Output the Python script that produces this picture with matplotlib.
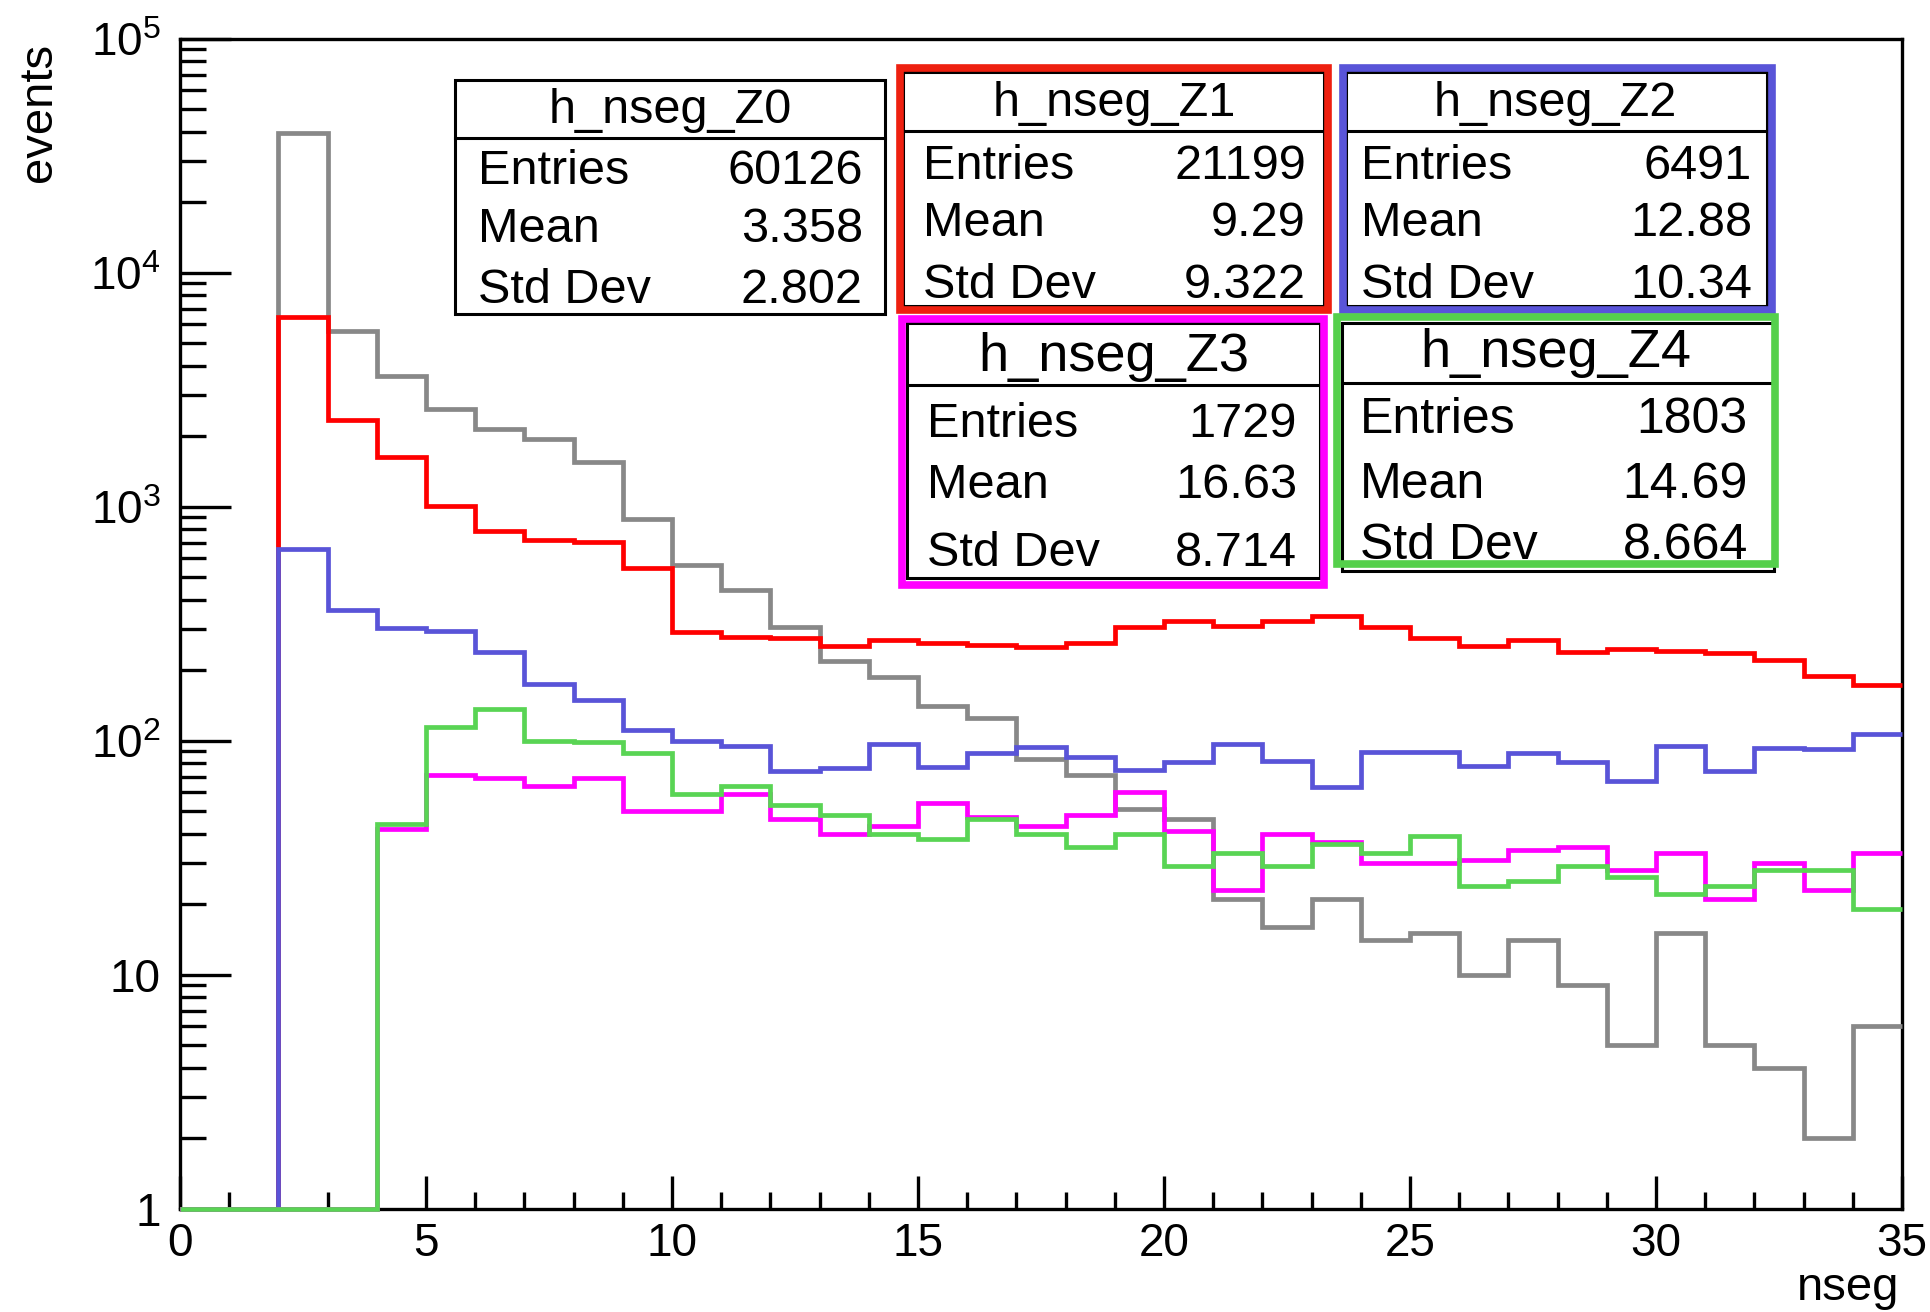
import numpy as np
import matplotlib
matplotlib.use('Agg')
import matplotlib.pyplot as plt
from matplotlib.patches import Rectangle
from matplotlib.lines import Line2D
from matplotlib.ticker import MultipleLocator, LogLocator, NullFormatter

plt.rcParams['font.family'] = ['Liberation Sans', 'DejaVu Sans']
plt.rcParams['mathtext.fontset'] = 'custom'
plt.rcParams['mathtext.rm'] = 'Liberation Sans'

# bin edges 0..35, one bin per nseg value
edges = np.arange(0, 36)

h_nseg_Z0 = [0, 0, 39360, 5650, 3600, 2617, 2138, 1946, 1549, 881,
             560, 441, 306, 218, 186, 140, 125, 83, 71, 51,
             46, 21, 16, 21, 14, 15, 10, 14, 9, 5,
             15, 5, 4, 2, 6]
h_nseg_Z1 = [0, 0, 6475, 2340, 1626, 1008, 789, 718, 705, 546,
             290, 278, 274, 253, 268, 260, 257, 251, 262, 306,
             324, 310, 324, 339, 307, 273, 254, 270, 240, 246,
             241, 237, 220, 189, 173]
h_nseg_Z2 = [0, 0, 660, 362, 303, 295, 240, 174, 149, 111,
             100, 95, 74, 76, 97, 77, 88, 94, 85, 75,
             81, 97, 82, 63, 89, 89, 78, 88, 81, 67,
             95, 74, 93, 92, 107]
h_nseg_Z3 = [0, 0, 0, 0, 42, 71, 69, 64, 69, 50,
             50, 59, 46, 40, 43, 54, 47, 43, 48, 60,
             41, 23, 40, 37, 30, 30, 31, 34, 35, 28,
             33, 21, 30, 23, 33]
h_nseg_Z4 = [0, 0, 0, 0, 44, 114, 137, 100, 99, 88,
             59, 64, 53, 48, 40, 38, 46, 40, 35, 40,
             29, 33, 29, 36, 33, 39, 24, 25, 29, 26,
             22, 24, 28, 28, 19]

hist_names = ['h_nseg_Z0', 'h_nseg_Z1', 'h_nseg_Z2', 'h_nseg_Z3', 'h_nseg_Z4']
entries = ['60126', '21199', '6491', '1729', '1803']
means = ['3.358', '9.29', '12.88', '16.63', '14.69']
stddevs = ['2.802', '9.322', '10.34', '8.714', '8.664']

hists = [h_nseg_Z0, h_nseg_Z1, h_nseg_Z2, h_nseg_Z3, h_nseg_Z4]
colors = ['#888888', '#ff0000', '#5954d8', '#ff00ff', '#59d454']
frame_colors = [None, '#ee2010', '#5954d8', '#ff00ff', '#55d04b']

W, H = 1931, 1312


def fx(px):
    return px / W


def fy(py):
    return 1 - py / H


fig = plt.figure(figsize=(W / 100, H / 100), dpi=100)
ax = fig.add_axes([fx(180), fy(1208.5), (1902 - 180) / W, (1208.5 - 38.5) / H])

for vals, c in zip(hists, colors):
    # empty bins sit on the bottom of the frame like ROOT does on log axes
    ax.stairs(np.maximum(vals, 1), edges, baseline=None, color=c, lw=3.4,
              zorder=3, clip_on=False, joinstyle='miter')

ax.set_xlim(0, 35)
ax.set_yscale('log')
ax.set_ylim(1, 1e5)
ax.xaxis.set_major_locator(MultipleLocator(5))
ax.xaxis.set_minor_locator(MultipleLocator(1))
ax.set_yticks([1, 10, 100, 1e3, 1e4, 1e5])
ax.set_yticklabels(['1', '10', r'$\mathregular{10^{2}}$', r'$\mathregular{10^{3}}$',
                    r'$\mathregular{10^{4}}$', r'$\mathregular{10^{5}}$'])
ax.yaxis.set_minor_locator(LogLocator(base=10, subs=np.arange(2, 10), numticks=20))
ax.yaxis.set_minor_formatter(NullFormatter())

ax.tick_params(axis='both', which='both', direction='in', top=False, right=False,
               labelsize=33, width=2.4, colors='black')
ax.tick_params(axis='y', which='major', length=37, pad=14)
ax.tick_params(axis='y', which='minor', length=19)
ax.tick_params(axis='x', which='major', length=24, pad=10)
ax.tick_params(axis='x', which='minor', length=12)
for sp in ax.spines.values():
    sp.set_linewidth(2.4)

fig.text(fx(39), fy(43), 'events', rotation=90, ha='center', va='top', fontsize=34)
fig.text(fx(1899), fy(1300), 'nseg', ha='right', va='baseline', fontsize=34)

# stat boxes (pixel layout of the reference)
box_layout = [
    dict(box=(455, 80, 885, 314), sep=137.5, frame=None,
         tx=670, ty=123, lx=478, rx=863, rows=(184, 242.5, 303), tsize=35, rsize=35),
    dict(box=(903, 72, 1324, 306), sep=131, frame=(896, 64, 1332, 314),
         tx=1114, ty=116, lx=923, rx=1306, rows=(179, 236, 297.5), tsize=35, rsize=35),
    dict(box=(1346, 72, 1767, 306), sep=131, frame=(1339, 64, 1776, 314),
         tx=1555, ty=116, lx=1361, rx=1752, rows=(179, 236, 297.5), tsize=35, rsize=35),
    dict(box=(907, 323, 1320, 578), sep=385, frame=(898, 315, 1328, 589),
         tx=1114, ty=371, lx=927, rx=1297, rows=(437, 498, 566), tsize=39, rsize=35),
    dict(box=(1342, 323, 1774, 571), sep=383, frame=(1333, 313, 1779, 568),
         tx=1556, ty=367, lx=1360, rx=1748, rows=(433.5, 498, 559), tsize=39, rsize=36),
]

for i, lay in enumerate(box_layout):
    x0, y0, x1, y1 = lay['box']
    fig.add_artist(Rectangle((fx(x0), fy(y1)), (x1 - x0) / W, (y1 - y0) / H,
                             transform=fig.transFigure, facecolor='white',
                             edgecolor='black', lw=2.2, zorder=5))
    fig.add_artist(Line2D([fx(x0), fx(x1)], [fy(lay['sep'])] * 2, color='black',
                          lw=2.2, transform=fig.transFigure, zorder=6))
    if lay['frame'] is not None:
        a0, b0, a1, b1 = lay['frame']
        d = 3.8
        fig.add_artist(Rectangle((fx(a0 + d), fy(b1 - d)), (a1 - a0 - 2 * d) / W,
                                 (b1 - b0 - 2 * d) / H, transform=fig.transFigure,
                                 facecolor='none', edgecolor=frame_colors[i],
                                 lw=5.5, zorder=7, joinstyle='miter'))
    fig.text(fx(lay['tx']), fy(lay['ty']), hist_names[i], ha='center', va='baseline',
             fontsize=lay['tsize'], zorder=8)
    for lab, val, yb in zip(['Entries', 'Mean', 'Std Dev'],
                            [entries[i], means[i], stddevs[i]], lay['rows']):
        fig.text(fx(lay['lx']), fy(yb), lab, ha='left', va='baseline',
                 fontsize=lay['rsize'], zorder=8)
        fig.text(fx(lay['rx']), fy(yb), val, ha='right', va='baseline',
                 fontsize=lay['rsize'], zorder=8)

fig.savefig('out.png', dpi=100, facecolor='white')
